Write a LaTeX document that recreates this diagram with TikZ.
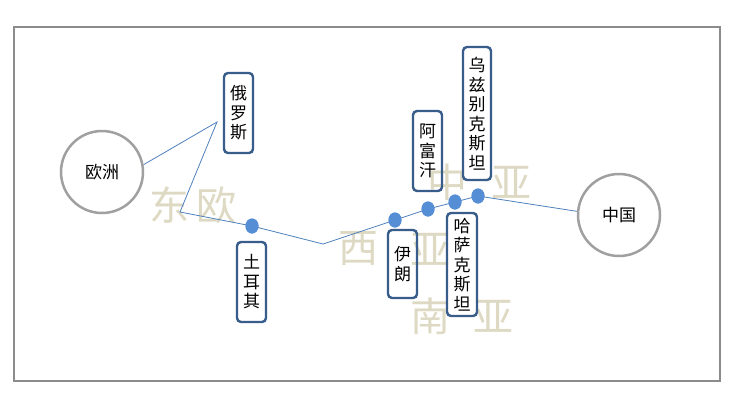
\documentclass[tikz,border=0pt]{standalone}
\usepackage{fontspec}
\newfontfamily\cjk{Noto Sans CJK SC}
\usetikzlibrary{shapes.geometric}
\definecolor{framegray}{HTML}{8C8C8C}
\definecolor{circgray}{HTML}{A0A0A0}
\definecolor{boxblue}{HTML}{385D8A}
\definecolor{linkblue}{HTML}{4F81BD}
\definecolor{dotblue}{HTML}{558ED5}
\definecolor{wmark}{HTML}{DDD9C3}
\tikzset{
  region/.style={circle, draw=circgray, line width=2.5pt, minimum size=82pt, inner sep=0pt, font=\cjk\fontsize{17}{19}\selectfont},
  country/.style={draw=boxblue, line width=2.4pt, rounded corners=4pt, inner sep=0pt, align=center, font=\cjk\fontsize{17}{19.5}\selectfont},
  stop/.style={ellipse, fill=dotblue, inner sep=0pt, minimum width=13pt, minimum height=15pt},
  wm/.style={text=wmark, inner sep=0pt, font=\cjk\fontsize{40}{40}\selectfont},
  link/.style={draw=linkblue, line width=0.8pt}
}
\begin{document}
\begin{tikzpicture}[x=1pt,y=-1pt]
\useasboundingbox (0,0) rectangle (736,405);
\fill[white] (0,0) rectangle (736,405);
\node[draw=framegray, line width=2.5pt, minimum width=706pt, minimum height=354pt, inner sep=0pt] (frame) at (367,204) {};
% watermarks
\node[wm] (w1) at (169,205) {东};
\node[wm] (w2) at (216,205) {欧};
\node[wm] (w3) at (447,182) {中};
\node[wm] (w4) at (511,182) {亚};
\node[wm] (w5) at (358,249) {西};
\node[wm] (w6) at (430,249) {亚};
\node[wm] (w7) at (430,316) {南};
\node[wm] (w8) at (493,316) {亚};
% regions
\node[region] (eu) at (102,172) {欧洲};
\node[region] (cn) at (619,215) {中国};
% path
\coordinate (v1) at (217,122);
\coordinate (v2) at (180,212);
\coordinate (v3) at (323,244);
\node[stop] (d1) at (252,226) {};
\node[stop] (d2) at (395,220) {};
\node[stop] (d3) at (428,209) {};
\node[stop] (d4) at (455,202) {};
\node[stop] (d5) at (478,196) {};
\draw[link] (eu.10) -- (v1) -- (v2) -- (d1.center) -- (v3) -- (d2.center) -- (d3.center) -- (d4.center) -- (d5.center) -- (cn.175);
\foreach \d in {d1,d2,d3,d4,d5} \fill[dotblue] (\d) ellipse (6.5pt and 7.5pt);
% countries
\node[country, minimum width=29pt, minimum height=80pt] (ru) at (238.5,113) {俄\\罗\\斯};
\node[country, minimum width=29pt, minimum height=80pt] (tr) at (251.5,282) {土\\耳\\其};
\node[country, minimum width=29pt, minimum height=80pt] (af) at (427.5,151) {阿\\富\\汗};
\node[country, minimum width=28pt, minimum height=133pt] (uz) at (477,113.5) {乌\\兹\\别\\克\\斯\\坦};
\node[country, minimum width=29pt, minimum height=68pt] (ir) at (402.5,264) {伊\\朗};
\node[country, minimum width=30pt, minimum height=103pt] (kz) at (462,264.5) {哈\\萨\\克\\斯\\坦};
\end{tikzpicture}
\end{document}
